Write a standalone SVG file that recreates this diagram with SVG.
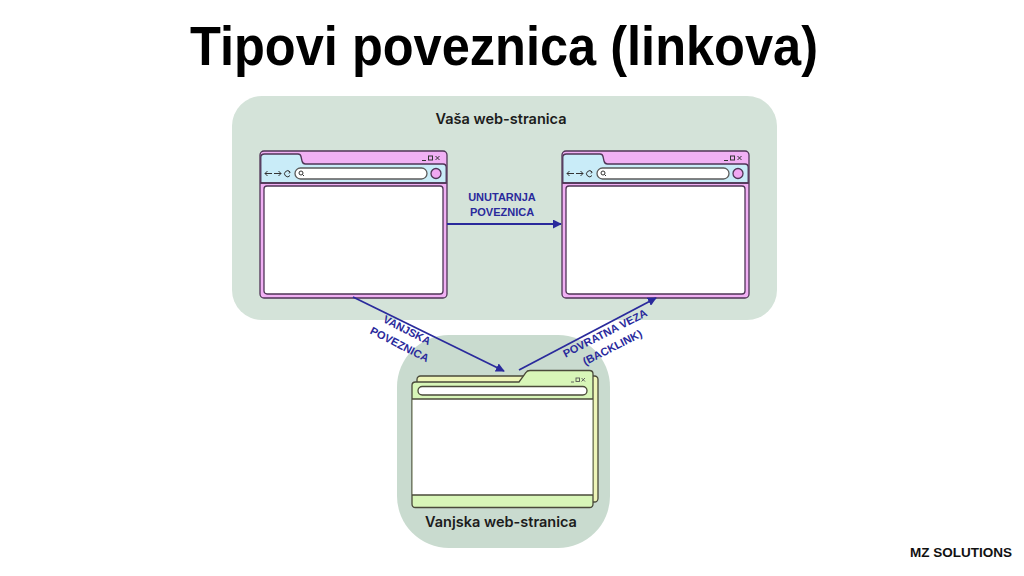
<svg xmlns="http://www.w3.org/2000/svg" xmlns:xlink="http://www.w3.org/1999/xlink" width="1024" height="576" viewBox="0 0 1024 576">
<style>
.title{font-family:"Liberation Sans",Arial,sans-serif;font-weight:bold;fill:#000}
.plabel{font-family:Inter,"Liberation Sans",sans-serif;font-weight:600;font-size:14.5px;fill:#1c1c1c;text-anchor:middle}
.elabel{font-family:"Liberation Sans",Arial,sans-serif;font-weight:bold;font-size:11px;fill:#2a2a9c;text-anchor:middle}
.conn{stroke:#2a2a9c;stroke-width:1.8;fill:none}
.frame{stroke:#4f3556;stroke-width:1.3}
.brand{font-family:"Liberation Sans",Arial,sans-serif;font-weight:bold;font-size:13.5px;fill:#111;text-anchor:end}
</style>
<defs>
<marker id="ah" viewBox="0 0 10 10" refX="9" refY="5" markerWidth="5" markerHeight="5" orient="auto" markerUnits="strokeWidth">
<path d="M0,0 L10,5 L0,10 Z" fill="#2a2a9c"/>
</marker>
<g id="browser">
<rect x="0" y="0" width="187" height="147" rx="4" fill="#f1b0f4" class="frame"/>
<path d="M0.8,32 V6.5 Q0.8,3 4.5,3 H38 Q40.5,3 41,5.5 L42,10 Q42.7,13 45.5,13 H183 Q186.2,13 186.2,16.5 V32 Z" fill="#c9ecf8" class="frame"/>
<line x1="0.5" y1="32" x2="186.5" y2="32" class="frame"/>
<rect x="4" y="35" width="179" height="108" rx="3" fill="#ffffff" class="frame"/>
<rect x="35" y="17" width="132" height="11" rx="5.5" fill="#ffffff" stroke="#5b5b5b" stroke-width="1.3"/>
<circle cx="41" cy="22" r="2" fill="none" stroke="#333" stroke-width="1"/>
<line x1="42.4" y1="23.4" x2="44" y2="25" stroke="#333" stroke-width="1"/>
<circle cx="176" cy="22.5" r="5" fill="#f1a8f2" class="frame"/>
<g stroke="#333" stroke-width="1" fill="none">
<path d="M5,22.5 H12 M7.5,20 L5,22.5 L7.5,25"/>
<path d="M14,22.5 H21 M18.5,20 L21,22.5 L18.5,25"/>
<path d="M30,21 A3,3 0 1 0 30,24.5"/>
<path d="M28.5,20 L30.2,21 L29,22.5"/>
<path d="M162,9.5 H166"/>
<rect x="168.5" y="5" width="4" height="4"/>
<path d="M175.5,5 L179.5,9 M179.5,5 L175.5,9"/>
</g>
</g>
</defs>
<rect width="1024" height="576" fill="#ffffff"/>
<text class="title" x="504" y="65" font-size="56" text-anchor="middle" textLength="628" lengthAdjust="spacingAndGlyphs">Tipovi poveznica (linkova)</text>
<g id="panel-own">
<rect x="232" y="96" width="545" height="224" rx="30" fill="#d4e3d9"/>
<text class="plabel" x="501" y="124">Vaša web-stranica</text>
</g>
<g id="panel-external">
<rect x="397" y="335" width="213" height="213" rx="52" fill="#c9dbcf"/>
<text class="plabel" x="501" y="527">Vanjska web-stranica</text>
</g>
<g id="browser-left">
<use xlink:href="#browser" href="#browser" x="260" y="151"/>
</g>
<g id="browser-right">
<use xlink:href="#browser" href="#browser" x="562" y="151"/>
</g>
<g id="browser-external">
<rect x="417" y="376" width="181" height="126" rx="3.5" fill="#eef5b8" stroke="#4a4a3a" stroke-width="1.3"/>
<path d="M412,504 V385.5 Q412,382 415.5,382 H519 L526,372.5 Q527,370.5 530,370.5 H589.5 Q593,370.5 593,374 V504 Q593,507.5 589.5,507.5 H415.5 Q412,507.5 412,504 Z" fill="#d8f6b8" stroke="#4a4a3a" stroke-width="1.3"/>
<rect x="412.6" y="399" width="179.8" height="96" fill="#ffffff"/>
<line x1="412" y1="399" x2="593" y2="399" stroke="#4a4a3a" stroke-width="1.3"/>
<line x1="412" y1="495" x2="593" y2="495" stroke="#4a4a3a" stroke-width="1.3"/>
<rect x="418" y="386.5" width="169" height="8.5" rx="4.25" fill="#ffffff" stroke="#4a4a3a" stroke-width="1.3"/>
<g stroke="#555" stroke-width="0.9" fill="none">
<path d="M571,382 H574"/>
<rect x="576" y="378" width="3.5" height="3.5"/>
<path d="M581.5,378 L585,381.5 M585,378 L581.5,381.5"/>
</g>
</g>
<g id="connectors">
<line class="conn" x1="447" y1="224" x2="561" y2="224" marker-end="url(#ah)"/>
<line class="conn" x1="353" y1="297" x2="504" y2="371" marker-end="url(#ah)"/>
<line class="conn" x1="519" y1="370" x2="656" y2="298" marker-end="url(#ah)"/>
</g>
<g id="edge-labels">
<text class="elabel" x="502" y="201">UNUTARNJA</text>
<text class="elabel" x="502" y="216">POVEZNICA</text>
<g transform="translate(407,330) rotate(27)">
<text class="elabel" x="0" y="4">VANJSKA</text>
<text class="elabel" x="0" y="20">POVEZNICA</text>
</g>
<g transform="translate(605,333) rotate(-27)">
<text class="elabel" x="0" y="4">POVRATNA VEZA</text>
<text class="elabel" x="0" y="20">(BACKLINK)</text>
</g>
</g>
<text class="brand" x="1012" y="557">MZ SOLUTIONS</text>
</svg>
